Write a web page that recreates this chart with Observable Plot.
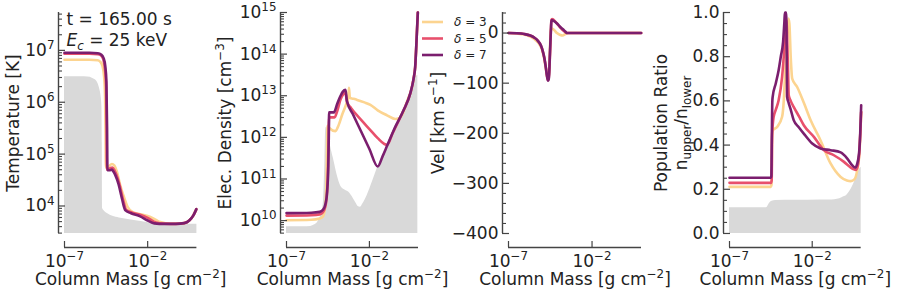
<!DOCTYPE html>
<html><head><meta charset="utf-8">
<script src="https://cdn.jsdelivr.net/npm/d3@7"></script>
<script src="https://cdn.jsdelivr.net/npm/@observablehq/plot@0.6"></script>
<style>
html,body{margin:0;padding:0;background:#fff;}
#fig{position:relative;width:897px;height:297px;overflow:hidden;font-family:"DejaVu Sans";}
#fig svg{position:absolute;top:0;overflow:visible;}
</style></head><body><div id="fig"></div>
<script>
// ---- series metadata ----
const seriesNames = ["δ = 3", "δ = 5", "δ = 7"];
const seriesColors = ["#fcd490", "#e8506c", "#7b1e6e"];
const xTicks = [1e-7, 1e-2];

// ---- data: [log10 column mass, value] (temperature/density as log10) ----
const tempInitial = [[-7,6.49],[-6,6.49],[-5.6,6.485],[-5.3,6.46],[-5.05,6.40],[-4.92,6.3],[-4.85,6.21],[-4.79,6.08],[-4.75,5.9],[-4.73,5.2],[-4.71,3.95],[-4.6,3.9],[-4.4,3.85],[-4.1,3.8],[-3.7,3.77],[-3.0,3.73],[-2.4,3.7],[-1.7,3.665],[-1.0,3.65],[0,3.65],[0.96,3.65]];
const tempD3 = [[-7,6.82],[-5.5,6.82],[-5.0,6.81],[-4.85,6.78],[-4.72,6.7],[-4.62,6.5],[-4.56,6.1],[-4.53,5.4],[-4.51,4.74],[-4.35,4.76],[-4.15,4.81],[-4.0,4.78],[-3.85,4.66],[-3.64,4.39],[-3.4,4.15],[-3.2,3.98],[-2.9,3.88],[-2.44,3.84],[-1.84,3.79],[-1.5,3.73],[-1.24,3.69],[-0.6,3.66],[-0.2,3.66],[0.2,3.67],[0.5,3.72],[0.75,3.82],[0.93,3.94]];
const tempD5 = [[-7,6.935],[-5.5,6.935],[-5.0,6.925],[-4.8,6.9],[-4.67,6.83],[-4.57,6.65],[-4.5,6.3],[-4.47,5.5],[-4.45,4.70],[-4.3,4.72],[-4.12,4.74],[-4.0,4.69],[-3.9,4.62],[-3.7,4.42],[-3.5,4.15],[-3.3,3.93],[-3.0,3.88],[-2.45,3.83],[-2.0,3.77],[-1.5,3.68],[-1.0,3.66],[-0.3,3.655],[0.2,3.67],[0.5,3.72],[0.75,3.82],[0.93,3.94]];
const tempD7 = [[-7,6.955],[-5.5,6.955],[-5.0,6.945],[-4.8,6.92],[-4.65,6.85],[-4.55,6.7],[-4.48,6.4],[-4.44,5.5],[-4.42,4.69],[-4.3,4.69],[-4.15,4.70],[-4.05,4.66],[-3.95,4.6],[-3.75,4.42],[-3.55,4.15],[-3.35,3.92],[-3.0,3.86],[-2.45,3.80],[-2.0,3.72],[-1.6,3.665],[-1.0,3.655],[-0.3,3.655],[0.2,3.67],[0.5,3.72],[0.75,3.82],[0.93,3.94]];

const densInitial = [[-7,9.85],[-6,9.85],[-5.54,9.86],[-5.3,9.9],[-5.14,9.95],[-4.95,10.1],[-4.84,10.24],[-4.75,10.6],[-4.68,11.5],[-4.64,12.16],[-4.6,12.24],[-4.5,12.1],[-4.3,11.7],[-4.14,11.44],[-3.95,11.1],[-3.74,10.84],[-3.5,10.74],[-3.24,10.68],[-3.0,10.55],[-2.84,10.44],[-2.65,10.33],[-2.55,10.32],[-2.4,10.4],[-2.14,10.6],[-1.8,10.95],[-1.54,11.24],[-1.1,11.65],[-0.74,12.0],[-0.3,12.35],[0.06,12.65],[0.4,13.0],[0.66,13.37],[0.92,13.49]];
const densD3 = [[-7,10.01],[-5.5,10.02],[-5.0,10.05],[-4.8,10.1],[-4.68,10.3],[-4.6,10.8],[-4.56,11.6],[-4.53,12.28],[-4.4,12.22],[-4.05,12.15],[-3.85,12.3],[-3.64,12.55],[-3.4,12.8],[-3.27,12.98],[-3.23,13.19],[-3.18,12.95],[-3.0,12.93],[-2.74,12.9],[-2.3,12.84],[-1.94,12.78],[-1.5,12.65],[-0.94,12.53],[-0.44,12.44],[-0.2,12.46],[0.06,12.62],[0.2,12.78],[0.36,12.96],[0.46,13.05],[0.66,13.4],[0.76,13.69],[0.86,14.49],[0.92,15.0]];
const densD5 = [[-7,10.12],[-5.5,10.13],[-5.0,10.15],[-4.8,10.2],[-4.65,10.35],[-4.55,10.7],[-4.49,11.4],[-4.46,12.1],[-4.44,12.48],[-4.1,12.48],[-3.95,12.62],[-3.75,12.9],[-3.55,13.05],[-3.45,13.08],[-3.35,12.85],[-3.1,12.7],[-2.5,12.42],[-2.0,12.2],[-1.5,11.98],[-1.1,11.84],[-0.94,11.82],[-0.6,12.1],[-0.2,12.43],[0.06,12.65],[0.46,13.05],[0.66,13.4],[0.76,13.69],[0.86,14.49],[0.92,15.0]];
const densD7 = [[-7,10.18],[-5.5,10.19],[-5.0,10.21],[-4.8,10.26],[-4.65,10.4],[-4.55,10.7],[-4.48,11.3],[-4.45,12.0],[-4.43,12.6],[-4.14,12.6],[-3.94,12.81],[-3.74,13.0],[-3.6,13.1],[-3.44,13.14],[-3.36,12.88],[-3.0,12.56],[-2.5,12.14],[-2.0,11.72],[-1.5,11.30],[-1.2,11.55],[-0.94,11.79],[-0.5,12.2],[0.06,12.65],[0.46,13.05],[0.66,13.4],[0.76,13.69],[0.86,14.49],[0.92,15.0]];

const velD3 = [[-7,0],[-6.5,-1],[-6.06,-3],[-5.7,-7],[-5.46,-12],[-5.25,-18],[-5.06,-28],[-4.95,-38],[-4.86,-52],[-4.76,-72],[-4.7,-85],[-4.64,-92],[-4.58,-82],[-4.53,-45],[-4.49,-5],[-4.46,10],[-4.3,7],[-4.1,0],[-3.9,-4],[-3.76,-5],[-3.6,-2],[-3.4,0],[-2,0],[0.94,0]];
const velD5 = [[-7,0],[-6.5,-0.5],[-6.06,-2],[-5.7,-5],[-5.46,-9],[-5.25,-15],[-5.06,-25],[-4.95,-36],[-4.86,-49],[-4.76,-70],[-4.7,-85],[-4.64,-94],[-4.6,-92],[-4.56,-75],[-4.51,-38],[-4.47,0],[-4.43,26],[-4.39,28],[-4.2,23],[-4.06,17],[-3.9,11],[-3.76,6],[-3.6,2],[-3.5,0],[-2,0],[0.94,0]];
const velD7 = [[-7,0],[-6.5,-0.5],[-6.06,-2],[-5.7,-5],[-5.46,-9],[-5.25,-15],[-5.06,-25],[-4.95,-36],[-4.86,-49],[-4.76,-70],[-4.7,-85],[-4.64,-95],[-4.6,-93],[-4.56,-78],[-4.52,-40],[-4.47,0],[-4.43,24],[-4.4,26],[-4.2,22],[-4.06,18],[-3.9,12],[-3.76,8],[-3.6,3],[-3.5,0],[-2,0],[0.94,0]];

const ratioInitial = [[-7,0.116],[-4.8,0.116],[-4.73,0.118],[-4.6,0.135],[-4.43,0.146],[-4.2,0.149],[-3,0.15],[-1.5,0.151],[-0.8,0.152],[-0.48,0.155],[-0.2,0.162],[0.12,0.175],[0.35,0.2],[0.52,0.226],[0.7,0.26],[0.83,0.286],[0.96,0.30]];
const ratioD3 = [[-7,0.211],[-4.5,0.211],[-4.46,0.22],[-4.43,0.42],[-4.38,0.467],[-4.12,0.482],[-3.82,0.528],[-3.72,0.6],[-3.62,0.754],[-3.52,0.9],[-3.44,0.973],[-3.38,0.95],[-3.3,0.8],[-3.21,0.701],[-2.91,0.663],[-2.5,0.59],[-2.1,0.513],[-1.5,0.422],[-0.89,0.317],[-0.28,0.256],[0.1,0.24],[0.33,0.237],[0.55,0.245],[0.73,0.29],[0.85,0.36],[0.96,0.55]];
const ratioD5 = [[-7,0.229],[-4.5,0.229],[-4.45,0.24],[-4.42,0.45],[-4.33,0.528],[-4.2,0.56],[-4.03,0.603],[-3.82,0.709],[-3.7,0.82],[-3.6,0.93],[-3.56,0.965],[-3.5,0.85],[-3.45,0.7],[-3.42,0.626],[-3.3,0.6],[-3.12,0.573],[-2.8,0.53],[-2.51,0.49],[-1.9,0.437],[-1.3,0.377],[-0.69,0.354],[-0.08,0.324],[0.3,0.3],[0.52,0.29],[0.65,0.288],[0.75,0.305],[0.85,0.37],[0.96,0.55]];
const ratioD7 = [[-7,0.252],[-4.5,0.252],[-4.47,0.26],[-4.44,0.45],[-4.41,0.6],[-4.39,0.618],[-4.2,0.68],[-4.03,0.739],[-3.9,0.8],[-3.76,0.867],[-3.68,0.96],[-3.65,1.0],[-3.57,1.0],[-3.54,0.8],[-3.52,0.62],[-3.42,0.59],[-3.32,0.566],[-3.12,0.513],[-2.8,0.48],[-2.51,0.452],[-2.0,0.407],[-1.5,0.385],[-0.89,0.377],[-0.28,0.367],[0.12,0.339],[0.4,0.31],[0.6,0.298],[0.7,0.31],[0.83,0.362],[0.9,0.45],[0.96,0.58]];

// ---- tick labels ----
const tempTicks = [1e4, 1e5, 1e6, 1e7];
const densTicks = [1e10, 1e11, 1e12, 1e13, 1e14, 1e15];
const velTicks = [0, -100, -200, -300, -400];
const ratioTicks = [0, 0.2, 0.4, 0.6, 0.8, 1.0];

// ---- rendering ----
const FS = 17;
const AX = "#444";
const X_DOMAIN = [1e-7, Math.pow(10, 0.96)];
const supExp = d => "10^{" + String(Math.round(Math.log10(d))).replace("-", "−") + "}";

function logMinor(lo, hi) {
  const out = [];
  for (let e = Math.floor(Math.log10(lo)); e <= Math.ceil(Math.log10(hi)); e++)
    for (let k = 2; k <= 9; k++) { const v = k * Math.pow(10, e); if (v >= lo && v <= hi) out.push(v); }
  return out;
}
function linMinor(lo, hi, step, majorStep) {
  const out = [];
  for (let i = Math.ceil(lo / step); i * step <= hi + 1e-9; i++) {
    const v = +(i * step).toFixed(6);
    if (Math.abs(v / majorStep - Math.round(v / majorStep)) > 1e-6) out.push(v);
  }
  return out;
}

function richify(root, fs) {
  d3.select(root).selectAll("text").each(function() {
    const t = this.textContent;
    if (!/[\^_]i?\{|\*/.test(t)) return;
    const parts = t.split(/(\^\{[^}]*\}|_i?\{[^}]*\}|\*[^*]+\*)/).filter(s => s.length);
    while (this.firstChild) this.removeChild(this.firstChild);
    let cur = 0;
    for (const p of parts) {
      let txt = p, shift = 0, small = false, italic = false;
      if (p.startsWith("^{")) { txt = p.slice(2, -1); shift = -0.4 * fs; small = true; }
      else if (p.startsWith("_i{")) { txt = p.slice(3, -1); shift = 0.24 * fs; small = true; italic = true; }
      else if (p.startsWith("_{")) { txt = p.slice(2, -1); shift = 0.24 * fs; small = true; }
      else if (p.startsWith("*")) { txt = p.slice(1, -1); italic = true; }
      const ts = document.createElementNS("http://www.w3.org/2000/svg", "tspan");
      ts.textContent = txt;
      if (shift !== cur) ts.setAttribute("dy", (shift - cur).toFixed(2));
      cur = shift;
      if (small) ts.setAttribute("font-size", (0.7 * fs).toFixed(2));
      if (italic) ts.setAttribute("font-style", "italic");
      this.appendChild(ts);
    }
  });
}

function makePanel(cfg) {
  const {frameLeft, frameW, marginLeft, yType, yDomain, yMajor, yMinor, yFormat, initial, curves, logY, ylabels, extra = []} = cfg;
  const marginRight = 10, marginTop = 12, marginBottom = 64;
  const toY = logY ? v => Math.pow(10, v) : v => v;
  const gray = initial.map(([m, v]) => ({m: Math.pow(10, m), v: toY(v)}));
  const lines = curves.flatMap((c, i) => c.map(([m, v]) => ({m: Math.pow(10, m), v: toY(v), s: seriesNames[i]})));
  const svg = Plot.plot({
    width: marginLeft + frameW + marginRight, height: 297,
    marginLeft, marginRight, marginTop, marginBottom,
    style: {background: "transparent", fontFamily: "DejaVu Sans", fontSize: FS + "px", color: "#222", overflow: "visible"},
    x: {type: "log", domain: X_DOMAIN},
    y: {type: yType, domain: yDomain},
    color: {domain: seriesNames, range: seriesColors},
    marks: [
      Plot.areaY(gray, {x: "m", y1: yDomain[0], y2: "v", fill: "#d9d9d9", curve: "monotone-x"}),
      Plot.line(lines, {x: "m", y: "v", z: "s", stroke: "s", strokeWidth: 2.6, curve: "monotone-x"}),
      Plot.ruleX([X_DOMAIN[0]], {y1: yDomain[0], y2: yDomain[1], dx: -6, stroke: AX, strokeWidth: 1.4}),
      Plot.axisY({ticks: yMinor, anchor: "left", tickSize: -4, dx: -6, tickFormat: () => "", label: null, stroke: AX, strokeWidth: 1.1}),
      Plot.axisY({ticks: yMajor, anchor: "left", tickSize: -7, dx: -6, tickPadding: 11, tickFormat: yFormat, label: null, stroke: AX, fill: "#222", strokeWidth: 1.2}),
      Plot.ruleY([yDomain[0]], {x1: X_DOMAIN[0], x2: X_DOMAIN[1], dy: 14, stroke: AX, strokeWidth: 1.4}),
      Plot.axisX({ticks: xTicks, anchor: "bottom", tickSize: -6, dy: 14, tickPadding: 13, tickFormat: supExp, label: null, stroke: AX, fill: "#222", strokeWidth: 1.2}),
      Plot.text(["Column Mass [g cm^{−2}]"], {text: d => d, frameAnchor: "bottom", textAnchor: "middle", dy: 51.5, fill: "#222"}),
      ...ylabels.map(([lab, dx]) => Plot.text([lab], {text: d => d, frameAnchor: "left", textAnchor: "middle", rotate: -90, dx, fill: "#222"})),
      ...extra
    ]
  });
  svg.style.left = (frameLeft - marginLeft) + "px";
  svg.style.position = "absolute";
  svg.style.top = "0px";
  richify(svg, FS);
  return svg;
}

const fig = document.getElementById("fig");

fig.appendChild(makePanel({
  frameLeft: 64.3, frameW: 132.4, marginLeft: 64, yType: "log", logY: true,
  yDomain: [2950, 5.37e7], yMajor: tempTicks, yMinor: logMinor(2950, 5.37e7), yFormat: supExp,
  initial: tempInitial, curves: [tempD3, tempD5, tempD7],
  ylabels: [["Temperature [K]", -51]],
  extra: [
    Plot.text(["t = 165.00 s"], {text: d => d, frameAnchor: "top-left", textAnchor: "start", lineAnchor: "top", dx: 2, dy: 0, fill: "#222"}),
    Plot.text(["*E*_i{c} = 25 keV"], {text: d => d, frameAnchor: "top-left", textAnchor: "start", lineAnchor: "top", dx: 2, dy: 21, fill: "#222"})
  ]
}));

fig.appendChild(makePanel({
  frameLeft: 285.7, frameW: 132, marginLeft: 72, yType: "log", logY: true,
  yDomain: [4.9e9, 1e15], yMajor: densTicks, yMinor: logMinor(4.9e9, 1e15), yFormat: supExp,
  initial: densInitial, curves: [densD3, densD5, densD7],
  ylabels: [["Elec. Density [cm^{−3}]", -61]]
}));

fig.appendChild(makePanel({
  frameLeft: 507.7, frameW: 133, marginLeft: 80, yType: "linear", logY: false,
  yDomain: [-400, 41], yMajor: velTicks, yMinor: linMinor(-400, 41, 20, 100),
  yFormat: d => d === 0 ? "0" : "−" + Math.abs(d),
  initial: [], curves: [velD3, velD5, velD7],
  ylabels: [["Vel [km s^{−1}]", -70]]
}));

fig.appendChild(makePanel({
  frameLeft: 729.3, frameW: 131.7, marginLeft: 80, yType: "linear", logY: false,
  yDomain: [0, 1], yMajor: ratioTicks, yMinor: linMinor(0, 1, 0.05, 0.2),
  yFormat: d => d.toFixed(1),
  initial: ratioInitial, curves: [ratioD3, ratioD5, ratioD7],
  ylabels: [["Population Ratio", -68], ["n_{upper}/n_{lower}", -48]]
}));

// ---- legend ----
const leg = d3.select(fig).append("svg")
  .attr("width", 897).attr("height", 297)
  .style("left", "0px").style("top", "0px").style("position", "absolute").style("pointer-events", "none");
const rowsY = [22, 38.5, 55];
seriesNames.forEach((name, i) => {
  leg.append("line").attr("x1", 422).attr("x2", 443).attr("y1", rowsY[i]).attr("y2", rowsY[i])
    .attr("stroke", seriesColors[i]).attr("stroke-width", 2.6);
  const t = leg.append("text").attr("x", 454).attr("y", rowsY[i] + 4.3)
    .attr("font-family", "DejaVu Sans").attr("font-size", 12).attr("fill", "#222");
  t.append("tspan").attr("font-style", "italic").text(name.slice(0, 1));
  t.append("tspan").text(name.slice(1));
});
</script></body></html>
